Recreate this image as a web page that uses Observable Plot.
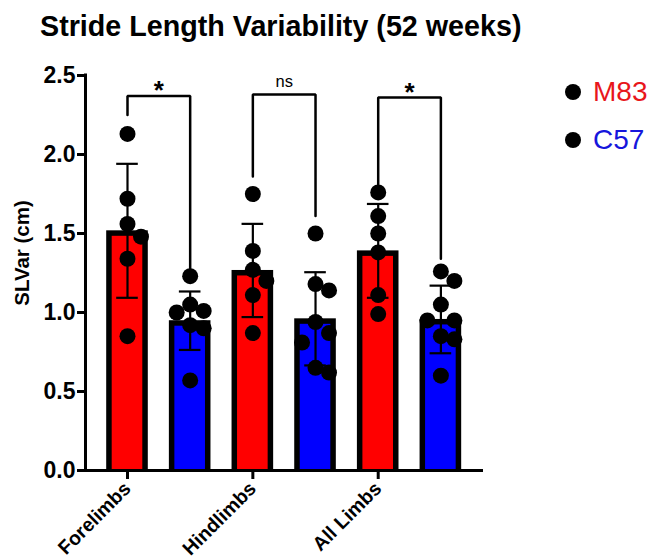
<!DOCTYPE html>
<html>
<head>
<meta charset="utf-8">
<script src="https://cdn.jsdelivr.net/npm/d3@7"></script>
<script src="https://cdn.jsdelivr.net/npm/@observablehq/plot@0.6"></script>
<style>
  html, body { margin: 0; padding: 0; background: #fff; }
  #wrap { position: relative; width: 652px; height: 559px; font-family: "Liberation Sans", Arial, Helvetica, sans-serif; overflow: hidden; }
  #title { position: absolute; left: 40px; top: 12px; font-size: 28.7px; font-weight: bold; line-height: 1; white-space: nowrap; color: #000; }
  #ylab { position: absolute; left: 22px; top: 253px; transform: translate(-50%, -50%) rotate(-90deg); font-size: 20.5px; font-weight: bold; line-height: 1; white-space: nowrap; color: #000; }
  .leg { position: absolute; left: 565px; height: 16px; display: flex; align-items: center; white-space: nowrap; }
  .leg .dot { width: 16px; height: 16px; border-radius: 50%; background: #000; display: inline-block; }
  .leg .lab { font-size: 28px; line-height: 1; margin-left: 12px; }
  #chart { position: absolute; left: 0; top: 0; }
</style>
</head>
<body>
<div id="wrap">
  <div id="chart"></div>
  <div id="title">Stride Length Variability (52 weeks)</div>
  <div id="ylab">SLVar (cm)</div>
  <div id="legend"></div>
</div>
<script>
// ---- data ----
const groups = ["Forelimbs", "Hindlimbs", "All Limbs"];
const strains = ["M83", "C57"];
const barColors = ["#ff0000", "#0000ff"];
const legendTextColors = ["#e8161b", "#1616dc"];

const m83Mean = [1.517, 1.266, 1.39];
const c57Mean = [0.948, 0.96, 0.956];
const m83SD = [0.424, 0.295, 0.297];
const c57SD = [0.185, 0.295, 0.214];

const m83Fore = [2.13, 1.72, 1.56, 1.48, 1.34, 0.85];
const c57Fore = [1.23, 1.05, 1.01, 1.00, 0.92, 0.90, 0.57];
const m83Hind = [1.75, 1.39, 1.27, 1.20, 1.11, 0.87];
const c57Hind = [1.50, 1.18, 1.14, 0.94, 0.87, 0.81, 0.65, 0.62];
const m83All = [1.76, 1.61, 1.50, 1.38, 1.11, 0.99];
const c57All = [1.26, 1.20, 1.05, 0.95, 0.95, 0.85, 0.83, 0.60];

const bracketLabels = ["*", "ns", "*"];
const bracketTop = [2.37, 2.38, 2.36];
const bracketLeftEnd = [2.25, 1.86, 1.81];
const bracketRightEnd = [1.27, 1.61, 1.34];

const yTicks = [0, 0.5, 1.0, 1.5, 2.0, 2.5];

// ---- build tables ----
const pointsBy = [[m83Fore, c57Fore], [m83Hind, c57Hind], [m83All, c57All]];
const meanBy = [m83Mean, c57Mean];
const sdBy = [m83SD, c57SD];

const xDomain = [-0.67, 5.68];
const W = 652, H = 559, mL = 85, mR = 169, mT = 75, mB = 89;
const pxPerSlot = (W - mL - mR) / (xDomain[1] - xDomain[0]);
const pxPerUnit = (H - mT - mB) / 2.5;

const bars = [];
groups.forEach((g, gi) => strains.forEach((s, si) => {
  bars.push({group: g, strain: s, slot: gi * 2 + si, mean: meanBy[si][gi], sd: sdBy[si][gi]});
}));

// Prism-like horizontal spreading of overlapping points (deterministic)
const STEP = 13.5, MIND = 17;
function spread(values, slot) {
  const order = values.map((v, i) => i).sort((a, b) => values[b] - values[a]);
  const placed = [];
  const out = new Array(values.length);
  for (const i of order) {
    const py = values[i] * pxPerUnit;
    let best = 0, bestD = -1;
    for (const off of [0, STEP, -STEP]) {
      let minD = Infinity;
      for (const p of placed) minD = Math.min(minD, Math.hypot(p.ox - off, p.py - py));
      if (minD >= MIND) { best = off; bestD = minD; break; }
      if (minD > bestD) { bestD = minD; best = off; }
    }
    placed.push({ox: best, py});
    out[i] = slot + best / pxPerSlot;
  }
  return out;
}
const points = [];
groups.forEach((g, gi) => strains.forEach((s, si) => {
  const vals = pointsBy[gi][si];
  const xs = spread(vals, gi * 2 + si);
  vals.forEach((v, i) => points.push({group: g, strain: s, x: xs[i], value: v}));
}));

const brackets = [];
const bracketText = [];
groups.forEach((g, gi) => {
  const l = gi * 2, r = gi * 2 + 1;
  brackets.push({id: gi, x: l, y: bracketLeftEnd[gi]});
  brackets.push({id: gi, x: l, y: bracketTop[gi]});
  brackets.push({id: gi, x: r, y: bracketTop[gi]});
  brackets.push({id: gi, x: r, y: bracketRightEnd[gi]});
  bracketText.push({x: (l + r) / 2, y: bracketTop[gi], label: bracketLabels[gi]});
});

const halfBar = 20.8 / pxPerSlot;
const capHalf = 10.8 / pxPerSlot;
const border = 5.5;

const chart = Plot.plot({
  width: W, height: H,
  marginLeft: mL, marginRight: mR, marginTop: mT, marginBottom: mB,
  style: {fontFamily: '"Liberation Sans", Arial, Helvetica, sans-serif', color: "#000", background: "transparent", overflow: "visible"},
  x: {type: "linear", domain: xDomain, axis: null},
  y: {domain: [0, 2.5], axis: null},
  color: {domain: strains, range: barColors},
  marks: [
    // bar outline (black) then coloured fill inset
    Plot.rectY(bars, {x1: d => d.slot - halfBar, x2: d => d.slot + halfBar, y1: 0, y2: "mean", fill: "#000"}),
    Plot.rectY(bars, {x1: d => d.slot - halfBar, x2: d => d.slot + halfBar, y1: 0, y2: "mean", fill: "strain", inset: border, insetBottom: 0}),
    // error bars (SD)
    Plot.ruleX(bars, {x: "slot", y1: d => d.mean - d.sd, y2: d => d.mean + d.sd, stroke: "#000", strokeWidth: 2.2}),
    Plot.ruleY(bars, {y: d => d.mean + d.sd, x1: d => d.slot - capHalf, x2: d => d.slot + capHalf, stroke: "#000", strokeWidth: 2.2}),
    Plot.ruleY(bars, {y: d => d.mean - d.sd, x1: d => d.slot - capHalf, x2: d => d.slot + capHalf, stroke: "#000", strokeWidth: 2.2}),
    // axis lines
    Plot.ruleY([0], {stroke: "#000", strokeWidth: 3}),
    Plot.ruleX([xDomain[0]], {y1: 0, y2: 2.5, stroke: "#000", strokeWidth: 3, strokeLinecap: "square"}),
    // individual points
    Plot.dot(points, {x: "x", y: "value", r: 8, fill: "#000", stroke: "none"}),
    // significance brackets
    Plot.line(brackets, {x: "x", y: "y", z: "id", stroke: "#000", strokeWidth: 2.5, strokeLinejoin: "miter", curve: "linear"}),
    Plot.text(bracketText, {filter: d => d.label === "*", x: "x", y: "y", text: "label", fontSize: 26, fontWeight: "bold", lineAnchor: "middle", dy: -5, fill: "#000"}),
    Plot.text(bracketText, {filter: d => d.label !== "*", x: "x", y: "y", text: "label", fontSize: 16.5, lineAnchor: "middle", dy: -13, fill: "#000"}),
    // axes
    Plot.axisY({ticks: yTicks, tickFormat: d3.format(".1f"), tickSize: 8, tickPadding: 2, strokeWidth: 3, fontSize: 23, fontWeight: "bold", label: null}),
    Plot.axisX({ticks: [0, 2, 4], tickFormat: d => groups[Math.round(d / 2)], tickSize: 9, tickPadding: 6, strokeWidth: 3, tickRotate: -45, fontSize: 19.5, fontWeight: "bold", label: null})
  ]
});
document.getElementById("chart").appendChild(chart);

// legend
const legend = document.getElementById("legend");
strains.forEach((s, i) => {
  const row = document.createElement("div");
  row.className = "leg";
  row.style.top = (84 + i * 48) + "px";
  row.innerHTML = `<span class="dot"></span><span class="lab" style="color:${legendTextColors[i]}">${s}</span>`;
  legend.appendChild(row);
});
</script>
</body>
</html>
